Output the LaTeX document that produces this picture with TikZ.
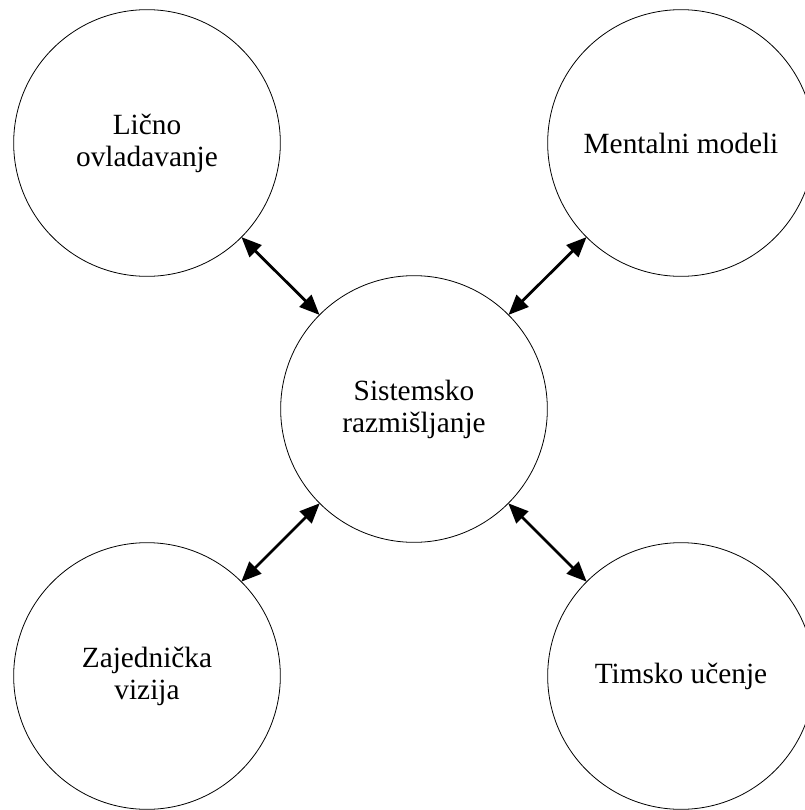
\documentclass[tikz,border=0pt]{standalone}
\usepackage{fontspec}
\setmainfont{Liberation Serif}
\usetikzlibrary{arrows.meta}

\begin{document}
\begin{tikzpicture}[x=0.75pt,y=-0.75pt,
    disc/.style={draw, circle, line width=0.6pt, minimum size=200pt, inner sep=0pt, outer sep=0pt,
      align=center, font=\fontsize{22}{24}\selectfont},
    link/.style={line width=2.1pt, {Triangle[length=15pt,width=12.5pt]}-{Triangle[length=15pt,width=12.5pt]}}]
      \useasboundingbox (0,0) rectangle (805,810);
      \node[disc] (sistem) at (414,409) {Sistemsko\\razmišljanje};
      \node[disc] (licno) at (147,143) {Lično\\ovladavanje};
      \node[disc] (mental) at (681,143) {Mentalni modeli};
      \node[disc] (vizija) at (147,676) {Zajednička\\vizija};
      \node[disc] (tim) at (681,676) {Timsko učenje};
      \draw[link] (licno) -- (sistem);
      \draw[link] (mental) -- (sistem);
      \draw[link] (vizija) -- (sistem);
      \draw[link] (tim) -- (sistem);
    \end{tikzpicture}
\end{document}
